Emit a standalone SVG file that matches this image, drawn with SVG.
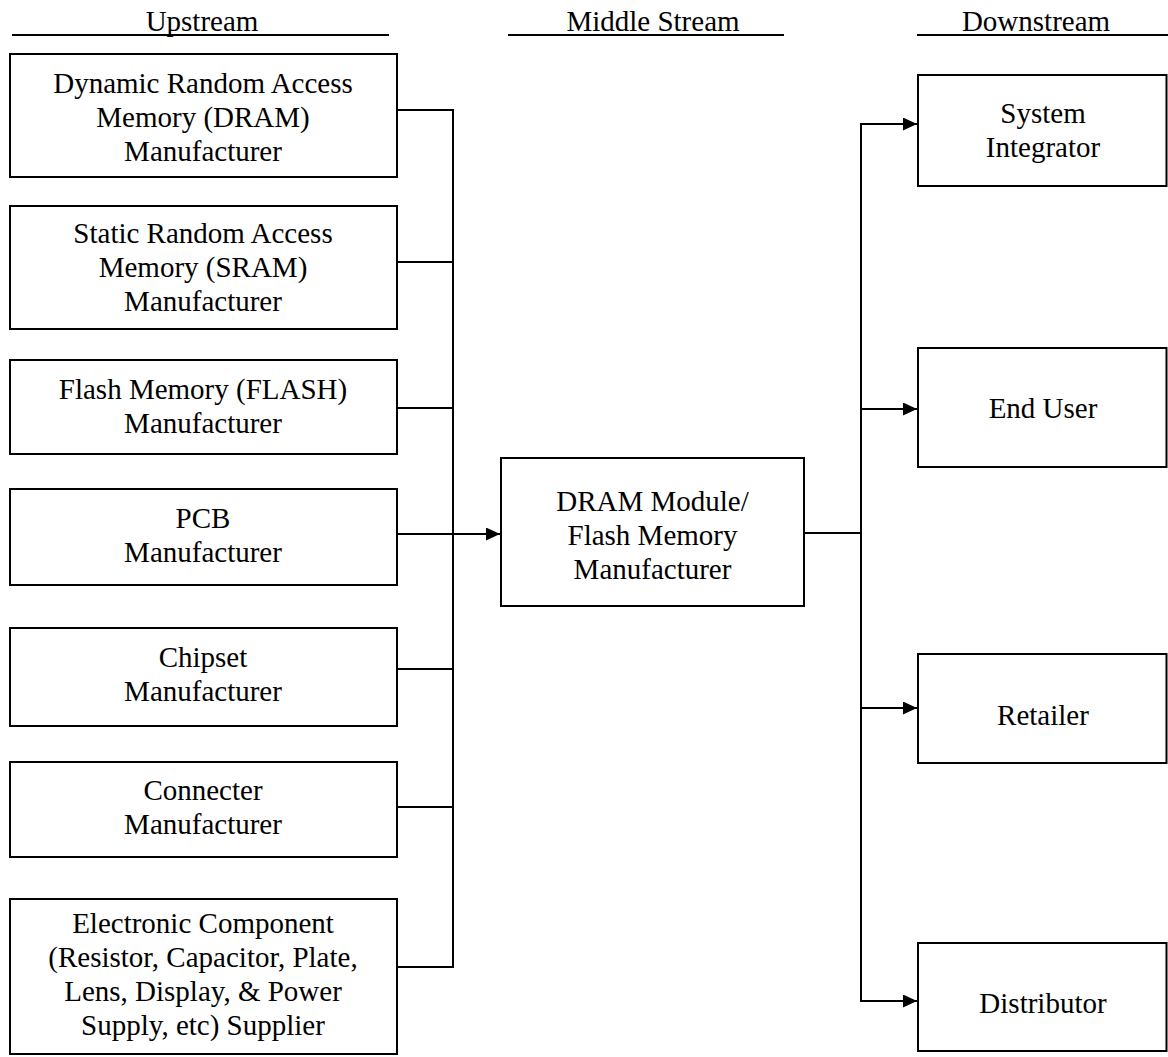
<svg xmlns="http://www.w3.org/2000/svg" width="1168" height="1057" viewBox="0 0 1168 1057">
<style>
  .box { fill: #fff; stroke: #000; stroke-width: 2; }
  .t { font-family: "Liberation Serif", "Times New Roman", serif; font-size: 29px; fill: #000; text-anchor: middle; }
  .ln { fill: none; stroke: #000; stroke-width: 2; }
  .hl { stroke: #000; stroke-width: 2; }
</style>
<defs>
  <marker id="arr" markerUnits="userSpaceOnUse" markerWidth="15" markerHeight="14" refX="14" refY="6.5" orient="auto">
    <path d="M0,0 L14,6.5 L0,13 z" fill="#000"/>
  </marker>
</defs>
<rect width="1168" height="1057" fill="#fff"/>

<g id="headers">
  <text class="t" x="202" y="31">Upstream</text>
  <line class="hl" x1="12" y1="35" x2="389" y2="35"/>
  <text class="t" x="653" y="31">Middle Stream</text>
  <line class="hl" x1="508" y1="35" x2="784" y2="35"/>
  <text class="t" x="1036" y="31">Downstream</text>
  <line class="hl" x1="917" y1="35" x2="1168" y2="35"/>
</g>

<g id="connectors">
  <path class="ln" d="M397,110 H453 V967 H397"/>
  <path class="ln" d="M397,262 H453"/>
  <path class="ln" d="M397,408 H453"/>
  <path class="ln" d="M397,669 H453"/>
  <path class="ln" d="M397,807 H453"/>
  <path class="ln" d="M397,534 H500" marker-end="url(#arr)"/>
  <path class="ln" d="M804,533 H861"/>
  <path class="ln" d="M917,124 H861 V1001 H917" marker-end="url(#arr)"/>
  <path class="ln" d="M861,124 H917" marker-end="url(#arr)"/>
  <path class="ln" d="M861,409 H917" marker-end="url(#arr)"/>
  <path class="ln" d="M861,708 H917" marker-end="url(#arr)"/>
</g>

<g id="n-dram">
  <rect class="box" x="10" y="54" width="387" height="123"/>
  <text class="t"><tspan x="203" y="93">Dynamic Random Access</tspan><tspan x="203" y="127">Memory (DRAM)</tspan><tspan x="203" y="161">Manufacturer</tspan></text>
</g>
<g id="n-sram">
  <rect class="box" x="10" y="206" width="387" height="123"/>
  <text class="t"><tspan x="203" y="243">Static Random Access</tspan><tspan x="203" y="277">Memory (SRAM)</tspan><tspan x="203" y="311">Manufacturer</tspan></text>
</g>
<g id="n-flash">
  <rect class="box" x="10" y="360" width="387" height="94"/>
  <text class="t"><tspan x="203" y="399">Flash Memory (FLASH)</tspan><tspan x="203" y="433">Manufacturer</tspan></text>
</g>
<g id="n-pcb">
  <rect class="box" x="10" y="489" width="387" height="96"/>
  <text class="t"><tspan x="203" y="528">PCB</tspan><tspan x="203" y="562">Manufacturer</tspan></text>
</g>
<g id="n-chipset">
  <rect class="box" x="10" y="628" width="387" height="98"/>
  <text class="t"><tspan x="203" y="667">Chipset</tspan><tspan x="203" y="701">Manufacturer</tspan></text>
</g>
<g id="n-connecter">
  <rect class="box" x="10" y="762" width="387" height="95"/>
  <text class="t"><tspan x="203" y="800">Connecter</tspan><tspan x="203" y="834">Manufacturer</tspan></text>
</g>
<g id="n-electronic">
  <rect class="box" x="10" y="899" width="387" height="155"/>
  <text class="t"><tspan x="203" y="933">Electronic Component</tspan><tspan x="203" y="967">(Resistor, Capacitor, Plate,</tspan><tspan x="203" y="1001">Lens, Display, &amp; Power</tspan><tspan x="203" y="1035">Supply, etc) Supplier</tspan></text>
</g>

<g id="n-module">
  <rect class="box" x="501" y="458" width="303" height="148"/>
  <text class="t"><tspan x="652.5" y="511">DRAM Module/</tspan><tspan x="652.5" y="545">Flash Memory</tspan><tspan x="652.5" y="579">Manufacturer</tspan></text>
</g>

<g id="n-integrator">
  <rect class="box" x="918" y="75" width="248.5" height="111"/>
  <text class="t"><tspan x="1043" y="123">System</tspan><tspan x="1043" y="157">Integrator</tspan></text>
</g>
<g id="n-enduser">
  <rect class="box" x="918" y="348" width="248.5" height="119"/>
  <text class="t" x="1043" y="418">End User</text>
</g>
<g id="n-retailer">
  <rect class="box" x="918" y="654" width="248.5" height="109"/>
  <text class="t" x="1043" y="725">Retailer</text>
</g>
<g id="n-distributor">
  <rect class="box" x="918" y="943" width="248.5" height="108"/>
  <text class="t" x="1043" y="1013">Distributor</text>
</g>
</svg>
